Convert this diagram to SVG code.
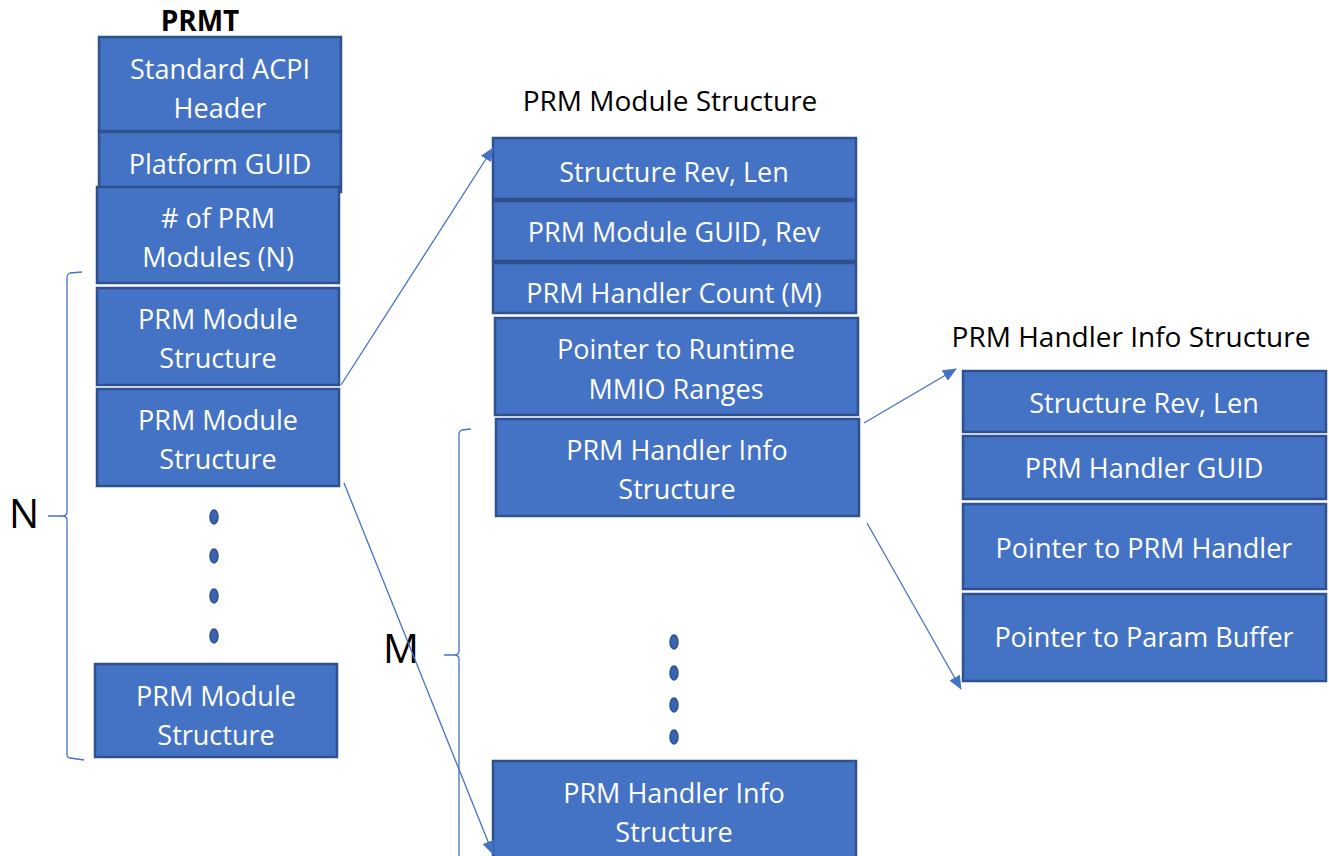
<svg xmlns="http://www.w3.org/2000/svg" width="1329" height="856" viewBox="0 0 1329 856">
<defs>
<style>
.b{fill:#4472C4;stroke:#2F528F;stroke-width:2.5}
.t{fill:#fff;font-family:"Open Sans",sans-serif;font-size:27px;text-anchor:middle}
.h{fill:#000;font-family:"Open Sans",sans-serif;font-size:28px;text-anchor:middle}
.c{fill:none;stroke:#4472C4;stroke-width:1.3}
.d{fill:#3A65B0;stroke:#2F528F;stroke-width:1.5}
.lbl{fill:#000;font-family:"Open Sans",sans-serif;font-size:40px}
</style>
<marker id="ah" markerWidth="14" markerHeight="12" refX="13" refY="6" orient="auto" markerUnits="userSpaceOnUse" viewBox="0 0 14 12">
<path d="M0,0 L14,6 L0,12 Z" fill="#4472C4"/>
</marker>
</defs>
<rect width="1329" height="856" fill="#fff"/>

<g id="prmt">
<text x="200" y="31" style="font-family:'Open Sans',sans-serif;font-size:28px;font-weight:bold;text-anchor:middle">PRMT</text>
<g id="acpi-header"><rect class="b" x="99" y="37" width="242" height="94"/><text class="t" x="220" y="79">Standard ACPI</text><text class="t" x="220" y="118">Header</text></g>
<g id="platform-guid"><rect class="b" x="99" y="132" width="242" height="60"/><text class="t" x="220" y="174">Platform GUID</text></g>
<g id="num-modules"><rect class="b" x="97" y="187" width="242" height="96"/><text class="t" x="218" y="228"># of PRM</text><text class="t" x="218" y="267">Modules (N)</text></g>
<g id="module-1"><rect class="b" x="97" y="288" width="242" height="97"/><text class="t" x="218" y="329">PRM Module</text><text class="t" x="218" y="368">Structure</text></g>
<g id="module-2"><rect class="b" x="97" y="389" width="242" height="97"/><text class="t" x="218" y="430">PRM Module</text><text class="t" x="218" y="469">Structure</text></g>
<g id="dots-n"><ellipse class="d" cx="214" cy="517" rx="4" ry="7"/><ellipse class="d" cx="214" cy="556" rx="4" ry="7"/><ellipse class="d" cx="214" cy="596" rx="4" ry="7"/><ellipse class="d" cx="214" cy="636" rx="4" ry="7"/></g>
<g id="module-n"><rect class="b" x="95" y="664" width="242" height="93"/><text class="t" x="216" y="706">PRM Module</text><text class="t" x="216" y="745">Structure</text></g>
</g>

<g id="prm-module-structure">
<text class="h" x="670" y="111">PRM Module Structure</text>
<g id="ms-rev"><rect class="b" x="493" y="138" width="363" height="61"/><text class="t" x="674" y="182">Structure Rev, Len</text></g>
<g id="ms-guid"><rect class="b" x="493" y="201" width="363" height="60"/><text class="t" x="674" y="242">PRM Module GUID, Rev</text></g>
<g id="ms-count"><rect class="b" x="493" y="263" width="363" height="50"/><text class="t" x="674" y="303">PRM Handler Count (M)</text></g>
<g id="ms-mmio"><rect class="b" x="495" y="318" width="363" height="97"/><text class="t" x="676" y="359">Pointer to Runtime</text><text class="t" x="676" y="399">MMIO Ranges</text></g>
<g id="ms-handler-1"><rect class="b" x="496" y="419" width="363" height="97"/><text class="t" x="677" y="460">PRM Handler Info</text><text class="t" x="677" y="499">Structure</text></g>
<g id="dots-m"><ellipse class="d" cx="674" cy="642" rx="4" ry="7"/><ellipse class="d" cx="674" cy="673" rx="4" ry="7"/><ellipse class="d" cx="674" cy="705" rx="4" ry="7"/><ellipse class="d" cx="674" cy="737" rx="4" ry="7"/></g>
<g id="ms-handler-m"><rect class="b" x="493" y="761" width="363" height="100"/><text class="t" x="674" y="803">PRM Handler Info</text><text class="t" x="674" y="842">Structure</text></g>
</g>

<g id="prm-handler-info-structure">
<text class="h" x="1131" y="347">PRM Handler Info Structure</text>
<g id="hi-rev"><rect class="b" x="963" y="371" width="363" height="61"/><text class="t" x="1144" y="413">Structure Rev, Len</text></g>
<g id="hi-guid"><rect class="b" x="963" y="436" width="363" height="63"/><text class="t" x="1144" y="478">PRM Handler GUID</text></g>
<g id="hi-handler"><rect class="b" x="963" y="504" width="363" height="85"/><text class="t" x="1144" y="558">Pointer to PRM Handler</text></g>
<g id="hi-param"><rect class="b" x="963" y="594" width="363" height="87"/><text class="t" x="1144" y="647">Pointer to Param Buffer</text></g>
</g>

<g id="braces">
<path class="c" d="M82,272 L70,273 Q67,274 67,278 L67,512 Q67,516 62,516 L48,516 M62,516 Q67,516 67,520 L67,754 Q67,758 70,758 L84,760"/>
<text class="lbl" x="9" y="528">N</text>
<path class="c" d="M471,429 L462,430 Q459,431 459,434 L459,651 Q459,655 454,655 L444,655 M454,655 Q459,655 459,659 L459,856"/>
<text class="lbl" x="383" y="663">M</text>
</g>

<g id="connectors">
<line class="c" x1="341" y1="385" x2="493" y2="148" marker-end="url(#ah)"/>
<line class="c" x1="344" y1="483" x2="493" y2="854" marker-end="url(#ah)"/>
<line class="c" x1="864" y1="423" x2="956" y2="369" marker-end="url(#ah)"/>
<line class="c" x1="867" y1="523" x2="961" y2="689" marker-end="url(#ah)"/>
</g>
</svg>
